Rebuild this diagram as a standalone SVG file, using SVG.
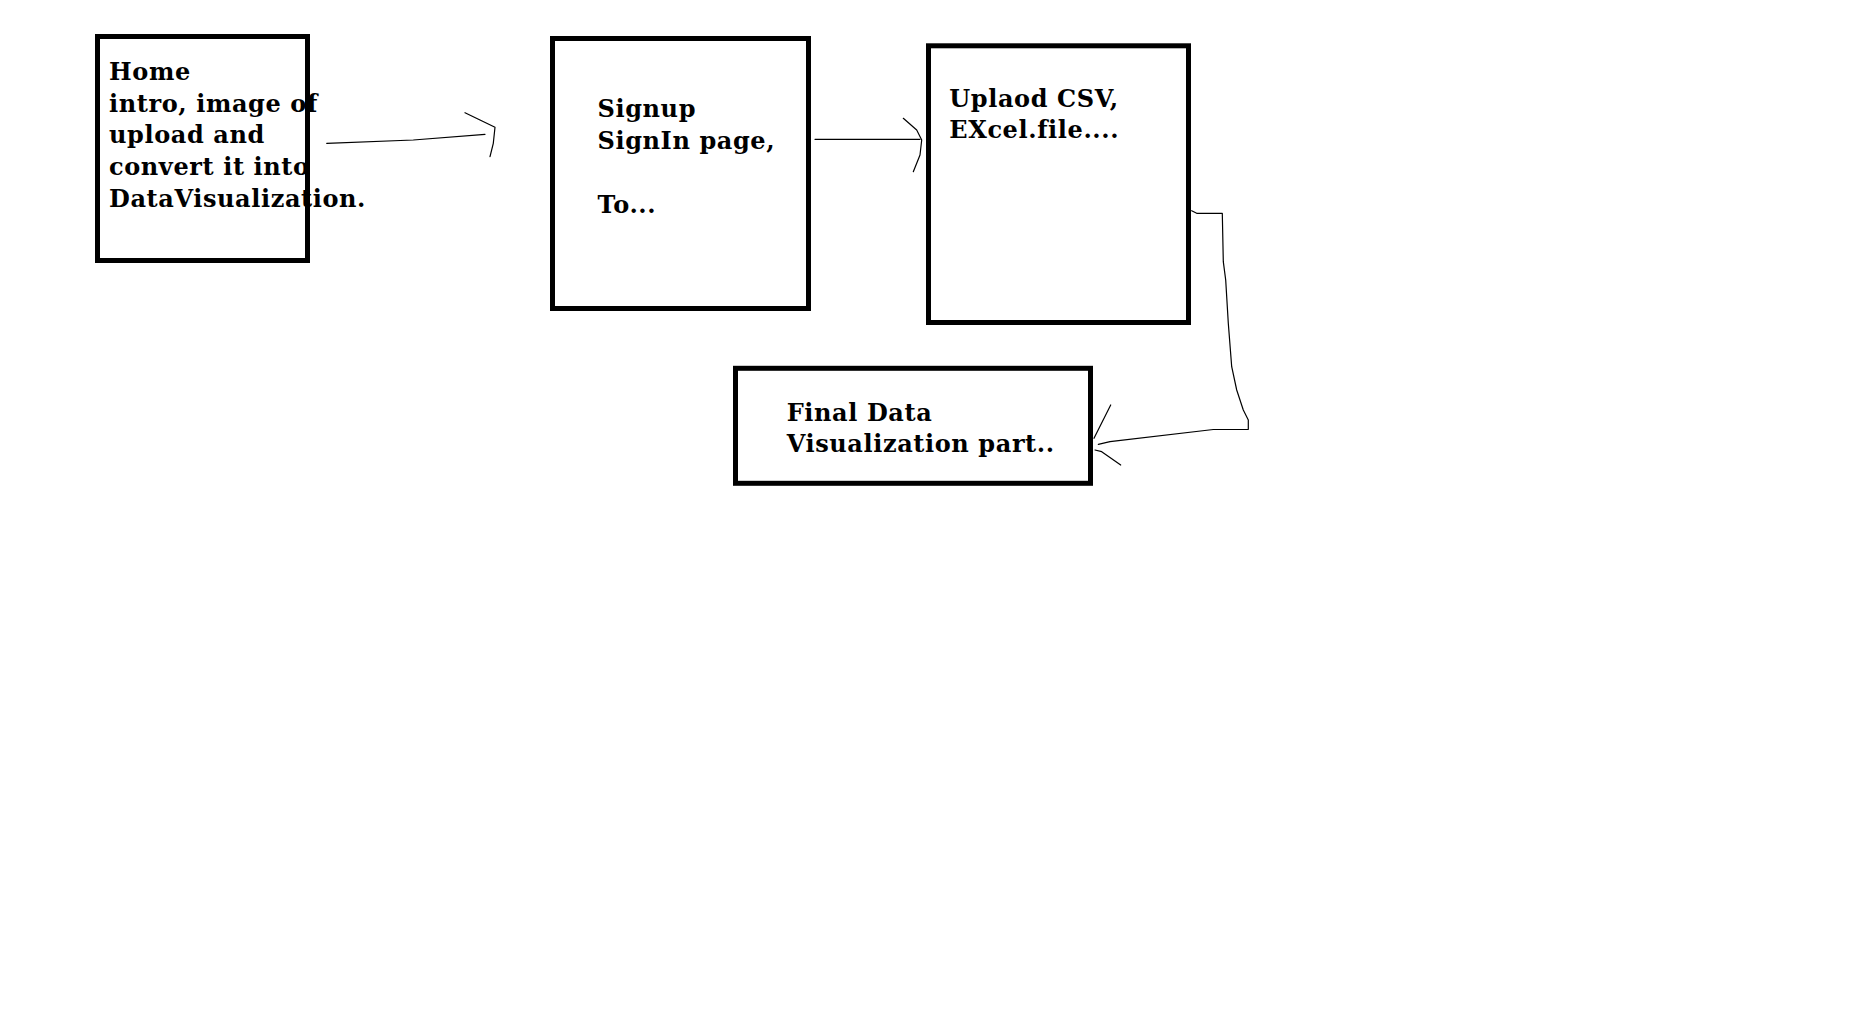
<svg xmlns="http://www.w3.org/2000/svg" width="1876" height="1036" viewBox="0 0 1876 1036">
<style>
.box{fill:none;stroke:#000;stroke-width:5}
.lbl{font-family:"DejaVu Serif","Liberation Serif",serif;font-weight:bold;font-size:24px;letter-spacing:0.6px;fill:#000}
.con{fill:none;stroke:#000;stroke-width:1.2;stroke-linejoin:round;stroke-linecap:round}
</style>
<rect width="1876" height="1036" fill="#fff"/>
<g id="home">
<rect class="box" x="97.5" y="36.5" width="210" height="224"/>
<text class="lbl" x="109" y="80">Home</text>
<text class="lbl" x="109" y="111.7">intro, image of</text>
<text class="lbl" x="109" y="143.4">upload and</text>
<text class="lbl" x="109" y="175">convert it into</text>
<text class="lbl" x="109" y="206.7">DataVisualization.</text>
</g>
<g id="signup">
<rect class="box" x="552.5" y="38.5" width="256" height="270"/>
<text class="lbl" x="597.5" y="116.7">Signup</text>
<text class="lbl" x="597.5" y="149">SignIn page,</text>
<text class="lbl" x="597.5" y="213.3">To...</text>
</g>
<g id="upload">
<rect class="box" x="928.5" y="45.8" width="260" height="276.7"/>
<text class="lbl" x="949.3" y="106.7">Uplaod CSV,</text>
<text class="lbl" x="949.3" y="138.3">EXcel.file....</text>
</g>
<g id="final">
<rect class="box" x="735.5" y="368.3" width="355" height="115"/>
<text class="lbl" x="786.7" y="420.7">Final Data</text>
<text class="lbl" x="786.7" y="451.7">Visualization part..</text>
</g>
<g id="connectors">
<path class="con" d="M326.7,143.3 L413.3,140 L485,134.3"/>
<path class="con" d="M465,112.7 L480,120 L495,127.3 L493.3,143.3 L490,156.7"/>
<path class="con" d="M815,139.3 L920,139.3"/>
<path class="con" d="M903.3,118.3 L916.7,130 L921.7,140 L920,155 L913.3,171.7"/>
<path class="con" d="M1191.7,210.7 L1196.7,213.3 L1222.3,213.3 L1223.3,261.7 L1225.7,280 L1228.3,323.3 L1231.7,366.7 L1236.7,390 L1243.3,410 L1248.3,420 L1248.3,429.3 L1213.3,429.5 L1110,441.7 L1098.3,444.3"/>
<path class="con" d="M1110.7,405 L1094,438.3"/>
<path class="con" d="M1095,450 L1101.7,451.7 L1120.7,465"/>
</g>
</svg>
